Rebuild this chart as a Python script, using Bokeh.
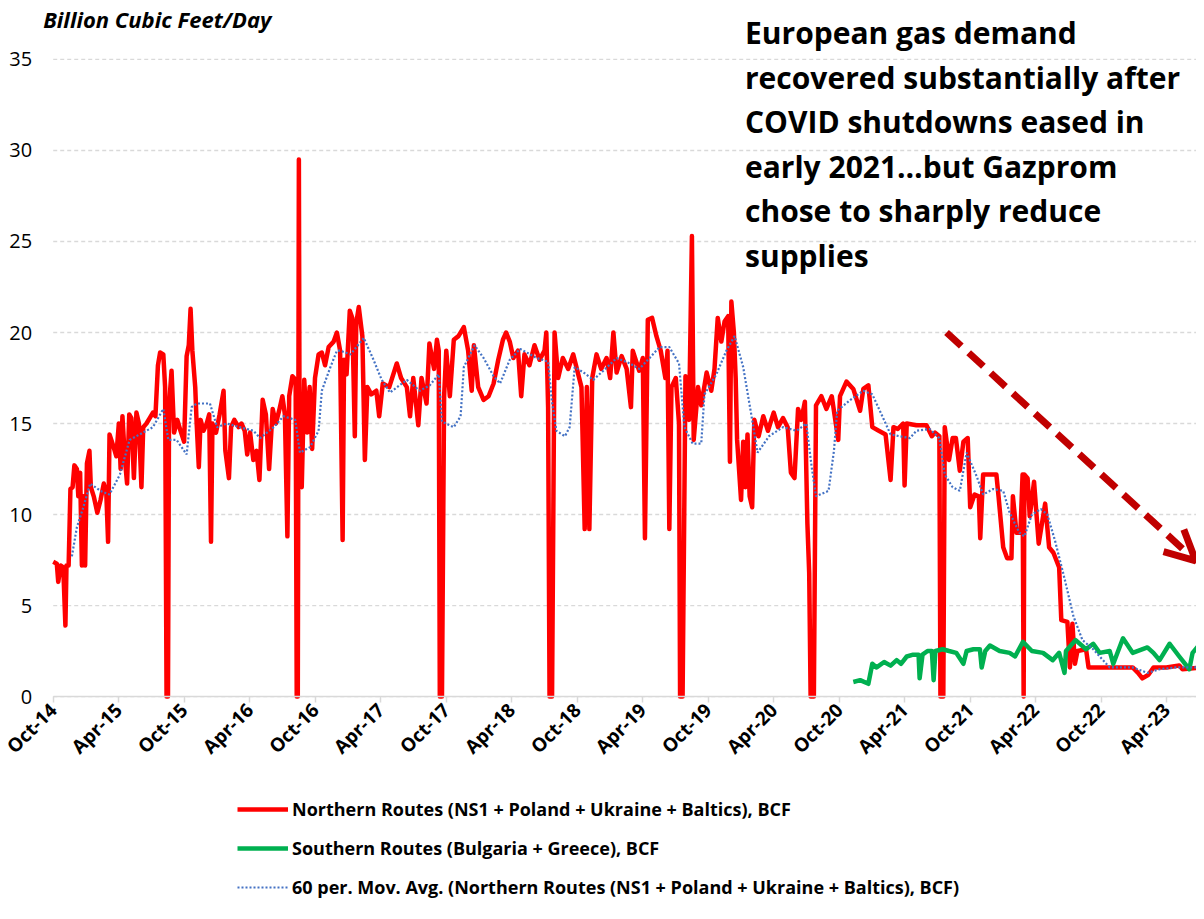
import math
import pandas as pd
from bokeh.plotting import figure
from bokeh.models import (Range1d, FixedTicker, DatetimeTickFormatter, Label, Arrow,
                          OpenHead, Legend, LegendItem, ColumnDataSource)
from bokeh.embed import file_html
from bokeh.resources import INLINE

# ---------------- data ----------------
north_dates = [
    "2014-10-01","2014-10-11","2014-10-15","2014-10-22","2014-10-29","2014-11-04","2014-11-07","2014-11-13",
    "2014-11-18","2014-11-24","2014-11-29","2014-12-06","2014-12-10","2014-12-15","2014-12-20","2014-12-24",
    "2014-12-29","2015-01-03","2015-01-10","2015-01-14","2015-01-22","2015-02-01","2015-02-10","2015-02-19",
    "2015-02-26","2015-03-03","2015-03-07","2015-03-17","2015-03-26","2015-04-02","2015-04-07","2015-04-12",
    "2015-04-19","2015-04-25","2015-05-01","2015-05-07","2015-05-14","2015-05-21","2015-05-28","2015-06-04",
    "2015-06-09","2015-06-18","2015-06-27","2015-07-06","2015-07-13","2015-07-20","2015-07-26","2015-08-04",
    "2015-08-09","2015-08-13","2015-08-17","2015-08-20","2015-08-27","2015-09-03","2015-09-12","2015-09-21",
    "2015-10-01","2015-10-08","2015-10-14","2015-10-19","2015-10-24","2015-11-01","2015-11-05","2015-11-11",
    "2015-11-16","2015-11-24","2015-12-03","2015-12-10","2015-12-15","2015-12-19","2015-12-29","2016-01-08",
    "2016-01-19","2016-01-24","2016-02-03","2016-02-09","2016-02-18","2016-03-01","2016-03-09","2016-03-18",
    "2016-03-25","2016-04-02","2016-04-11","2016-04-20","2016-04-28","2016-05-07","2016-05-16","2016-05-25",
    "2016-06-04","2016-06-13","2016-06-23","2016-07-01","2016-07-08","2016-07-15","2016-07-20","2016-07-29",
    "2016-08-07","2016-08-10","2016-08-13","2016-08-16","2016-08-18","2016-08-24","2016-08-31","2016-09-08",
    "2016-09-15","2016-09-22","2016-09-30","2016-10-10","2016-10-19","2016-10-28","2016-11-07","2016-11-21",
    "2016-11-30","2016-12-09","2016-12-16","2016-12-20","2016-12-27","2017-01-05","2017-01-12","2017-01-19",
    "2017-01-23","2017-01-30","2017-02-09","2017-02-16","2017-02-23","2017-03-06","2017-03-20","2017-03-28",
    "2017-04-07","2017-04-25","2017-05-16","2017-05-28","2017-06-13","2017-06-22","2017-07-01","2017-07-15",
    "2017-07-24","2017-08-07","2017-08-15","2017-08-28","2017-09-05","2017-09-10","2017-09-13","2017-09-19",
    "2017-09-25","2017-10-01","2017-10-11","2017-10-22","2017-11-04","2017-11-19","2017-12-01","2017-12-11",
    "2017-12-17","2017-12-29","2018-01-13","2018-01-27","2018-02-10","2018-02-23","2018-03-08","2018-03-17",
    "2018-03-27","2018-04-06","2018-04-19","2018-04-28","2018-05-07","2018-05-21","2018-06-04","2018-06-18",
    "2018-07-02","2018-07-07","2018-07-12","2018-07-16","2018-07-23","2018-07-30","2018-08-09","2018-08-22",
    "2018-09-06","2018-09-20","2018-10-04","2018-10-13","2018-10-22","2018-10-28","2018-11-04","2018-11-12",
    "2018-11-24","2018-12-07","2018-12-22","2019-01-01","2019-01-10","2019-01-19","2019-02-02","2019-02-16",
    "2019-02-28","2019-03-05","2019-03-23","2019-04-02","2019-04-08","2019-04-16","2019-04-28","2019-05-10",
    "2019-05-22","2019-06-04","2019-06-10","2019-06-15","2019-06-21","2019-07-03","2019-07-12","2019-07-15",
    "2019-07-22","2019-07-30","2019-08-09","2019-08-17","2019-08-22","2019-09-03","2019-09-12","2019-09-27",
    "2019-10-10","2019-10-19","2019-10-28","2019-11-07","2019-11-16","2019-11-26","2019-12-01","2019-12-05",
    "2019-12-12","2019-12-17","2019-12-21","2020-01-01","2020-01-07","2020-01-13","2020-01-19","2020-01-25",
    "2020-02-01","2020-02-07","2020-02-19","2020-03-03","2020-03-16","2020-04-01","2020-04-13","2020-04-27",
    "2020-05-10","2020-05-19","2020-05-29","2020-06-08","2020-06-17","2020-06-27","2020-07-04","2020-07-09",
    "2020-07-13","2020-07-22","2020-07-28","2020-08-12","2020-08-26","2020-09-10","2020-09-28","2020-10-03",
    "2020-10-21","2020-11-09","2020-11-28","2020-12-07","2020-12-21","2021-01-01","2021-01-19","2021-02-07",
    "2021-02-21","2021-03-01","2021-03-13","2021-03-28","2021-04-01","2021-04-07","2021-05-04","2021-06-01",
    "2021-06-16","2021-06-25","2021-07-07","2021-07-10","2021-07-18","2021-07-22","2021-08-03","2021-08-13",
    "2021-08-22","2021-09-02","2021-09-12","2021-09-24","2021-10-01","2021-10-13","2021-10-25","2021-10-29",
    "2021-11-06","2021-12-13","2021-12-19","2022-01-01","2022-01-12","2022-01-24","2022-01-28","2022-02-07",
    "2022-02-18","2022-02-24","2022-02-27","2022-03-01","2022-03-10","2022-03-16","2022-03-28","2022-04-10",
    "2022-04-28","2022-05-09","2022-05-21","2022-06-06","2022-06-12","2022-06-29","2022-07-06","2022-07-13",
    "2022-07-20","2022-07-27","2022-08-20","2022-08-27","2022-12-28","2023-01-12","2023-01-24","2023-02-10",
    "2023-02-24","2023-04-01","2023-05-07","2023-05-16","2023-07-13",
]
north_values = [
    7.4, 7.3, 6.3, 7.2, 7.1, 3.9, 7.2, 7.2,
    11.4, 11.5, 12.7, 12.5, 11.0, 12.3, 7.2, 11.0,
    7.2, 12.8, 13.5, 11.5, 11.0, 10.1, 10.8, 11.7,
    11.2, 8.5, 14.4, 13.8, 13.2, 15.0, 12.5, 15.4,
    13.0, 11.7, 15.5, 15.3, 12.0, 15.6, 15.0, 11.5,
    14.8, 15.0, 15.3, 15.6, 15.4, 18.2, 18.9, 18.8,
    17.0, 0.0, 0.0, 16.0, 17.9, 14.5, 15.2, 14.6,
    14.0, 18.7, 19.3, 21.3, 19.0, 17.0, 15.0, 12.6,
    15.2, 14.6, 15.0, 15.5, 8.5, 15.0, 14.5, 15.5,
    16.8, 13.5, 12.0, 14.8, 15.2, 14.8, 15.0, 14.6,
    13.3, 14.5, 13.0, 13.5, 11.9, 16.3, 15.5, 12.5,
    15.8, 15.0, 15.8, 16.5, 15.5, 8.8, 16.5, 17.6,
    17.4, 0.0, 0.0, 29.5, 14.0, 11.5, 17.4, 14.5,
    17.0, 13.6, 17.5, 18.8, 18.9, 18.2, 19.2, 19.5,
    20.0, 19.0, 8.6, 18.5, 17.7, 21.2, 20.8, 14.3,
    20.5, 21.4, 19.8, 13.0, 17.0, 16.6, 16.8, 15.4,
    17.2, 17.0, 18.3, 17.5, 17.0, 15.4, 17.5, 14.9,
    17.5, 16.1, 19.4, 18.0, 19.6, 19.0, 0.0, 0.0,
    16.5, 19.0, 16.5, 19.6, 19.8, 20.3, 19.0, 16.8,
    19.3, 17.0, 16.3, 16.5, 17.2, 18.5, 19.6, 20.0,
    19.5, 18.6, 19.0, 16.5, 18.8, 18.2, 19.3, 18.5,
    19.0, 20.0, 15.9, 0.0, 0.0, 20.0, 17.5, 18.6,
    18.0, 18.8, 17.7, 17.0, 9.2, 17.0, 9.2, 17.5,
    18.8, 18.0, 18.6, 17.5, 20.0, 17.8, 18.7, 18.0,
    15.9, 19.0, 17.9, 18.6, 8.7, 20.7, 20.8, 19.8,
    19.0, 17.5, 19.0, 9.2, 17.0, 17.5, 15.0, 0.0,
    0.0, 17.6, 15.2, 25.3, 14.1, 17.0, 16.0, 17.8,
    16.8, 18.0, 20.8, 19.5, 20.6, 20.9, 12.9, 21.7,
    20.0, 17.5, 14.1, 10.8, 14.0, 11.5, 14.4, 11.0,
    10.4, 15.2, 14.3, 15.4, 14.6, 15.6, 14.8, 15.3,
    14.8, 12.3, 12.0, 15.8, 15.2, 16.2, 9.5, 6.8,
    0.0, 0.0, 16.0, 16.5, 15.8, 16.5, 14.1, 16.5,
    17.3, 16.9, 15.7, 16.9, 17.1, 14.8, 14.6, 14.4,
    11.9, 14.8, 14.7, 15.0, 11.6, 15.0, 14.9, 14.9,
    14.3, 14.5, 14.3, 0.0, 0.0, 14.8, 13.0, 14.2,
    14.2, 12.4, 14.0, 14.2, 10.4, 11.1, 11.0, 8.7,
    12.2, 12.2, 11.0, 8.2, 7.6, 7.6, 11.0, 9.0,
    9.0, 12.2, 0.0, 12.2, 12.0, 9.9, 11.8, 8.4,
    10.6, 8.2, 7.9, 7.1, 4.2, 4.1, 1.6, 4.0,
    1.8, 2.5, 2.6, 1.6, 1.6, 1.3, 1.0, 1.2,
    1.6, 1.6, 1.7, 1.5, 1.6,
]

south_dates = [
    "2020-11-09","2020-11-28","2020-12-21","2021-01-01","2021-01-13","2021-02-03","2021-02-21","2021-03-10",
    "2021-03-22","2021-04-07","2021-04-25","2021-05-10","2021-05-13","2021-05-21","2021-06-04","2021-06-16",
    "2021-06-21","2021-06-26","2021-07-16","2021-08-03","2021-08-23","2021-09-12","2021-09-21","2021-10-10",
    "2021-10-28","2021-11-02","2021-11-12","2021-11-25","2021-12-22","2022-01-19","2022-02-03","2022-02-25",
    "2022-03-22","2022-04-22","2022-05-19","2022-06-06","2022-06-21","2022-06-25","2022-07-22","2022-08-20",
    "2022-09-09","2022-09-27","2022-10-25","2022-11-04","2022-12-01","2022-12-28","2023-02-07","2023-02-24",
    "2023-03-13","2023-04-10","2023-05-07","2023-06-04","2023-06-13","2023-07-13",
]
south_values = [
    0.8, 0.9, 0.7, 1.8, 1.6, 1.9, 1.7, 2.0,
    1.8, 2.2, 2.3, 2.3, 1.0, 2.3, 2.5, 2.5,
    0.9, 2.5, 2.6, 2.5, 2.4, 1.8, 2.5, 2.6,
    2.6, 1.6, 2.5, 2.8, 2.5, 2.4, 2.2, 3.0,
    2.5, 2.4, 2.0, 2.4, 1.3, 2.5, 3.1, 2.6,
    2.9, 2.4, 2.5, 1.8, 3.2, 2.4, 2.7, 2.4,
    2.0, 2.9, 2.2, 1.5, 2.4, 3.1,
]

ma_dates = [
    "2014-11-22","2014-12-06","2014-12-24","2015-01-12","2015-02-10","2015-03-07","2015-04-05","2015-05-02",
    "2015-05-30","2015-07-06","2015-08-04","2015-08-18","2015-09-10","2015-10-08","2015-10-22","2015-11-05",
    "2015-12-12","2016-01-01","2016-01-28","2016-03-04","2016-04-11","2016-04-30","2016-06-07","2016-07-04",
    "2016-08-06","2016-08-19","2016-09-16","2016-10-10","2016-10-19","2016-11-12","2016-11-30","2016-12-09",
    "2017-01-07","2017-02-13","2017-03-10","2017-04-04","2017-04-27","2017-06-13","2017-07-19","2017-08-16",
    "2017-09-10","2017-09-19","2017-10-22","2017-11-10","2017-11-19","2017-12-19","2018-01-13","2018-02-10",
    "2018-02-28","2018-03-27","2018-04-25","2018-06-10","2018-07-12","2018-07-22","2018-08-04","2018-08-28",
    "2018-09-10","2018-09-24","2018-10-19","2018-11-15","2018-12-13","2019-01-19","2019-02-25","2019-03-23",
    "2019-04-21","2019-05-19","2019-06-15","2019-07-12","2019-07-27","2019-08-19","2019-09-12","2019-09-21",
    "2019-10-24","2019-11-21","2019-12-14","2020-01-07","2020-02-01","2020-02-16","2020-03-19","2020-04-27",
    "2020-06-04","2020-07-01","2020-07-16","2020-07-28","2020-09-01","2020-09-16","2020-09-25","2020-11-01",
    "2020-12-07","2021-01-01","2021-01-22","2021-02-21","2021-03-19","2021-04-16","2021-05-04","2021-06-10",
    "2021-07-07","2021-07-22","2021-08-13","2021-09-02","2021-09-21","2021-10-19","2021-11-06","2021-12-04",
    "2022-01-01","2022-01-19","2022-02-15","2022-03-01","2022-03-22","2022-04-16","2022-05-04","2022-05-25",
    "2022-06-22","2022-07-16","2022-08-10","2022-09-09","2022-09-27","2022-10-25","2022-12-28","2023-02-07",
    "2023-03-13","2023-04-28","2023-07-13",
]
ma_values = [
    7.7, 9.3, 10.4, 11.7, 11.3, 11.1, 12.2, 14.1,
    14.4, 14.8, 15.8, 14.1, 14.1, 13.3, 15.9, 16.1,
    16.1, 14.8, 15.0, 14.8, 14.6, 14.2, 14.8, 15.4,
    15.2, 13.4, 13.7, 14.6, 16.8, 18.1, 19.0, 19.0,
    18.8, 19.7, 18.6, 17.4, 16.7, 17.4, 16.8, 17.1,
    17.7, 15.1, 14.8, 15.4, 18.1, 19.3, 18.6, 17.6,
    17.2, 18.5, 19.1, 18.6, 18.4, 16.3, 14.6, 14.3,
    14.8, 18.1, 17.8, 17.4, 17.9, 18.6, 18.3, 18.0,
    18.6, 19.2, 19.2, 18.3, 14.8, 13.9, 13.9, 16.6,
    17.7, 19.0, 19.8, 18.1, 15.2, 13.4, 14.3, 14.8,
    14.6, 15.0, 12.6, 11.0, 11.3, 13.5, 15.7, 16.3,
    16.8, 16.6, 15.7, 14.4, 14.3, 14.2, 14.6, 14.7,
    14.2, 12.2, 11.5, 11.3, 13.4, 12.1, 11.1, 11.4,
    11.3, 10.1, 9.0, 8.8, 10.0, 10.3, 10.0, 8.6,
    6.4, 4.4, 3.1, 2.6, 2.2, 1.6, 1.6, 1.3,
    1.5, 1.6, 1.6,
]

tick_dates = ["2014-10-01","2015-04-01","2015-10-01","2016-04-01","2016-10-01","2017-04-01",
              "2017-10-01","2018-04-01","2018-10-01","2019-04-01","2019-10-01","2020-04-01",
              "2020-10-01","2021-04-01","2021-10-01","2022-04-01","2022-10-01","2023-04-01"]
y_ticks = [0, 5, 10, 15, 20, 25, 30, 35]

series_labels = [
    "Northern Routes (NS1 + Poland + Ukraine + Baltics), BCF",
    "Southern Routes (Bulgaria + Greece), BCF",
    "60 per. Mov. Avg. (Northern Routes (NS1 + Poland + Ukraine + Baltics), BCF)",
]
note_lines = [
    "European gas demand",
    "recovered substantially after",
    "COVID shutdowns eased in",
    "early 2021\u2026but Gazprom",
    "chose to sharply reduce",
    "supplies",
]

# ---------------- figure ----------------
FONT = "Open Sans"

def ms(d):
    return pd.Timestamp(d).value / 1e6

axis_start = "2014-10-01"
view_start = "2014-05-07"
view_end = "2023-06-24"

# frame covers the whole figure; axes are pinned at x = Oct-14 and y = 0
p = figure(width=1196, height=903, x_axis_type="datetime",
           x_range=Range1d(pd.Timestamp(view_start), pd.Timestamp(view_end)),
           y_range=Range1d(-11.37, 38.24),
           output_backend="svg", toolbar_location=None,
           min_border_left=0, min_border_right=0, min_border_top=0, min_border_bottom=0)
p.outline_line_color = None
p.background_fill_color = "white"
p.border_fill_color = "white"

# horizontal dashed gridlines starting at the Oct-14 axis origin
p.xgrid.grid_line_color = None
p.ygrid.grid_line_color = None
p.segment(x0=[ms(axis_start)] * len(y_ticks), x1=[ms(view_end)] * len(y_ticks),
          y0=y_ticks, y1=y_ticks, line_color="#D9D9D9", line_width=1.3,
          line_dash="4 3", level="underlay")

north = ColumnDataSource(dict(x=pd.to_datetime(north_dates), y=north_values))
south = ColumnDataSource(dict(x=pd.to_datetime(south_dates), y=south_values))
ma = ColumnDataSource(dict(x=pd.to_datetime(ma_dates), y=ma_values))

r_n = p.line("x", "y", source=north, line_color="#FF0000", line_width=4.5, line_join="round")
r_s = p.line("x", "y", source=south, line_color="#00B050", line_width=4.5, line_join="round")
r_m = p.line("x", "y", source=ma, line_color="#4472C4", line_width=2.2, line_dash="2 2")

# x axis drawn at y = 0
xa = p.xaxis[0]
xa.fixed_location = 0
xa.bounds = (ms(axis_start), ms(view_end))
xa.ticker = FixedTicker(ticks=[ms(d) for d in tick_dates])
fmt = "%b-%y"
xa.formatter = DatetimeTickFormatter(microseconds=fmt, milliseconds=fmt, seconds=fmt,
                                     minsec=fmt, minutes=fmt, hourmin=fmt, hours=fmt,
                                     days=fmt, months=fmt, years=fmt)
xa.major_label_orientation = math.pi / 4
xa.axis_line_color = "#D9D9D9"
xa.axis_line_width = 1.5
xa.major_tick_line_color = "#D9D9D9"
xa.major_tick_line_width = 1.5
xa.major_tick_out = 6
xa.major_tick_in = 0
xa.minor_tick_line_color = None
xa.major_label_text_font = FONT
xa.major_label_text_font_size = "19px"
xa.major_label_text_font_style = "bold"
xa.major_label_text_color = "black"
xa.major_label_standoff = 4

# y axis drawn at x = Oct-14
ya = p.yaxis[0]
ya.fixed_location = ms(axis_start)
ya.bounds = (0, 35)
ya.ticker = FixedTicker(ticks=y_ticks)
ya.axis_line_color = None
ya.major_tick_line_color = None
ya.minor_tick_line_color = None
ya.major_tick_out = 0
ya.major_tick_in = 0
ya.major_label_standoff = 21
ya.major_label_text_font = FONT
ya.major_label_text_font_size = "20px"
ya.major_label_text_color = "black"

# axis title (top-left)
p.add_layout(Label(x=ms("2014-09-03"), y=37.25, text="Billion Cubic Feet/Day",
                   text_font=FONT, text_font_size="22px", text_font_style="bold italic",
                   text_baseline="middle", text_align="left", text_color="black"))

# annotation text
note_x = ms("2020-01-12")
note_y = [36.48, 34.01, 31.59, 29.12, 26.70, 24.23]
for t, yy in zip(note_lines, note_y):
    p.add_layout(Label(x=note_x, y=yy, text=t, text_font=FONT, text_font_size="30px",
                       text_font_style="bold", text_baseline="alphabetic", text_align="left",
                       text_color="black"))

# dashed arrow
p.add_layout(Arrow(x_start=ms("2021-07-27"), y_start=20.0,
                   x_end=ms("2023-06-22"), y_end=7.45,
                   line_color="#C00000", line_width=7, line_dash="20 10",
                   end=OpenHead(size=30, line_color="#C00000", line_width=7)))

legend = Legend(items=[LegendItem(label=series_labels[0], renderers=[r_n]),
                       LegendItem(label=series_labels[1], renderers=[r_s]),
                       LegendItem(label=series_labels[2], renderers=[r_m])],
                location=(237, 4), orientation="vertical",
                border_line_color=None, background_fill_alpha=0,
                padding=0, margin=0, spacing=15, glyph_width=51, glyph_height=20,
                label_height=20, label_standoff=4, label_text_font=FONT,
                label_text_font_size="18px", label_text_font_style="bold",
                label_text_color="black")
p.add_layout(legend)

open("out.html", "w").write(file_html(p, INLINE))
